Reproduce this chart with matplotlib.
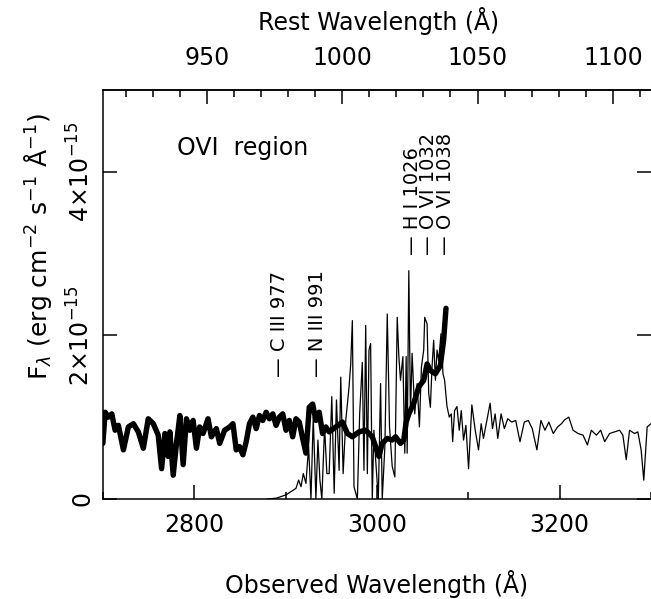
import numpy as np
import matplotlib.pyplot as plt
from matplotlib.ticker import MultipleLocator, FixedLocator, FuncFormatter

# redshift factor (1+z) linking observed and rest wavelength
zfac = 2.962

# low resolution spectrum (thick), flux in 1e-15 erg/cm2/s/A
wl_low = [2700.0, 2702.5, 2706.1, 2709.8, 2713.4, 2717.0, 2722.5, 2727.9, 2733.4, 2738.8,
          2744.3, 2749.7, 2755.2, 2760.6, 2764.3, 2767.9, 2771.5, 2773.4, 2777.0, 2780.6,
          2784.3, 2787.9, 2791.5, 2795.2, 2798.8, 2802.4, 2806.0, 2809.7, 2815.1, 2818.8,
          2824.2, 2827.9, 2833.3, 2838.8, 2842.4, 2846.0, 2849.6, 2853.3, 2856.9, 2860.5,
          2864.2, 2867.8, 2871.4, 2875.1, 2878.7, 2882.3, 2886.0, 2889.6, 2893.2, 2896.9,
          2900.5, 2904.1, 2907.8, 2911.4, 2915.0, 2918.7, 2922.3, 2925.9, 2929.6, 2933.2,
          2936.8, 2940.5, 2944.1, 2947.7, 2955.0, 2962.2, 2967.7, 2973.1, 2980.4, 2987.7,
          2994.9, 3002.2, 3005.8, 3011.3, 3016.7, 3020.4, 3025.8, 3029.4, 3032.0, 3034.9,
          3040.3, 3045.8, 3051.2, 3054.9, 3058.5, 3064.0, 3069.4, 3073.0, 3075.6]
fl_low = [0.68, 1.06, 1.00, 1.04, 0.84, 0.90, 0.60, 0.88, 0.92, 0.82,
          0.62, 0.98, 0.92, 0.78, 0.37, 0.80, 0.52, 0.82, 0.29, 0.68,
          1.02, 0.42, 0.98, 0.84, 0.96, 0.62, 0.88, 0.80, 0.98, 0.76,
          0.86, 0.68, 0.84, 0.88, 0.92, 0.60, 0.64, 0.54, 0.70, 0.92,
          1.00, 0.86, 1.02, 0.96, 1.06, 0.98, 1.04, 0.90, 1.00, 1.04,
          0.84, 0.96, 0.76, 0.98, 0.94, 0.74, 0.56, 1.12, 1.16, 0.96,
          1.06, 0.80, 0.88, 0.82, 0.88, 0.94, 0.80, 0.76, 0.82, 0.84,
          0.76, 0.52, 0.68, 0.74, 0.72, 0.76, 0.68, 0.72, 0.94, 1.04,
          1.17, 1.37, 1.45, 1.65, 1.57, 1.53, 1.63, 1.94, 2.33]

# high resolution spectrum (thin)
wl_high = [2880.0, 2890.0, 2900.5, 2906.0, 2911.4, 2914.3, 2916.9, 2919.4, 2922.3, 2925.2,
           2927.8, 2930.3, 2933.2, 2935.4, 2937.6, 2939.7, 2942.7, 2945.2, 2947.7, 2950.6,
           2953.2, 2955.7, 2958.6, 2960.4, 2963.0, 2965.9, 2969.5, 2971.3, 2973.1, 2974.9,
           2978.6, 2981.1, 2984.0, 2985.8, 2987.7, 2989.5, 2991.3, 2993.1, 2994.9, 2996.7,
           2998.6, 3001.5, 3004.0, 3005.8, 3008.7, 3011.3, 3013.8, 3016.7, 3019.6, 3022.2,
           3024.0, 3025.8, 3028.4, 3030.5, 3032.0, 3033.1, 3034.9, 3036.7, 3038.5, 3041.4,
           3044.0, 3046.5, 3048.7, 3051.2, 3052.3, 3054.9, 3056.7, 3058.5, 3060.3, 3062.1,
           3064.0, 3065.8, 3067.6, 3070.1, 3072.3, 3074.1, 3076.7, 3079.2, 3081.4, 3082.9,
           3085.0, 3087.6, 3090.1, 3092.3, 3094.8, 3097.4, 3100.3, 3103.9, 3107.6, 3111.2,
           3114.1, 3116.6, 3120.3, 3123.9, 3126.5, 3129.4, 3132.3, 3135.9, 3139.5, 3143.2,
           3147.5, 3151.9, 3156.6, 3161.3, 3165.7, 3170.0, 3175.1, 3179.5, 3183.9, 3188.2,
           3193.0, 3197.7, 3202.0, 3205.7, 3210.0, 3214.7, 3220.2, 3225.6, 3230.4, 3234.7,
           3240.2, 3244.9, 3249.3, 3254.7, 3260.2, 3265.6, 3269.2, 3272.9, 3276.5, 3282.0,
           3285.6, 3289.2, 3292.1, 3295.8, 3300.0]
fl_high = [0.00, 0.01, 0.05, 0.09, 0.13, 0.23, 0.15, 0.31, 0.19, 0.64,
           0.00, 1.00, 0.00, 0.72, 0.23, 0.00, 0.88, 0.31, 0.31, 1.25,
           0.07, 1.21, 0.35, 1.49, 0.31, 0.96, 1.37, 1.65, 2.18, 0.15,
           0.00, 1.04, 1.67, 0.35, 2.12, 0.31, 1.82, 1.90, 0.00, 0.84,
           0.48, 0.00, 1.41, 0.00, 0.64, 2.26, 0.88, 0.40, 0.27, 2.22,
           1.74, 1.45, 1.74, 0.56, 1.74, 0.56, 2.79, 1.04, 1.78, 1.04,
           1.41, 0.88, 1.61, 1.82, 2.22, 2.14, 1.29, 1.12, 1.61, 1.94,
           1.45, 1.82, 1.69, 2.02, 1.53, 1.45, 1.13, 1.00, 1.04, 0.70,
           1.08, 1.13, 0.84, 1.08, 0.72, 0.90, 0.37, 1.15, 0.84, 0.60,
           0.92, 0.74, 0.96, 1.17, 0.86, 1.04, 0.74, 1.04, 0.86, 0.98,
           0.94, 0.96, 0.70, 0.94, 0.96, 0.86, 0.60, 0.96, 0.84, 0.94,
           0.80, 0.88, 0.92, 0.97, 1.00, 0.84, 0.80, 0.78, 0.66, 0.84,
           0.78, 0.84, 0.70, 0.80, 0.82, 0.84, 0.78, 0.48, 0.84, 0.80,
           0.82, 0.60, 0.23, 0.88, 0.92]

line_names = ['C III 977', 'N III 991', 'H I 1026', 'O VI 1032', 'O VI 1038']
line_rest = [977, 991, 1026, 1032, 1038]

fs = 17
fig = plt.figure(figsize=(6.51, 5.99), dpi=100)
ax = fig.add_axes([0.158, 0.167, 0.842, 0.683])

ax.plot(wl_high, fl_high, color='black', lw=0.9)
ax.plot(wl_low, fl_low, color='black', lw=3.9, solid_joinstyle='round',
        solid_capstyle='round')

ax.set_xlim(2700, 3300)
ax.set_ylim(0, 5)
ax.xaxis.set_major_locator(MultipleLocator(200))
ax.xaxis.set_minor_locator(MultipleLocator(100))
ax.yaxis.set_major_locator(FixedLocator([0, 2, 4]))
ax.yaxis.set_major_formatter(FuncFormatter(
    lambda v, p: '0' if v == 0 else '%d×10$^{-15}$' % round(v)))
ax.tick_params(which='both', direction='in', top=False, right=True,
               labelsize=fs, width=1.1)
ax.tick_params(which='major', length=10)
ax.tick_params(which='minor', length=5)
ax.tick_params(axis='x', pad=10)
ax.tick_params(axis='y', pad=6)
for lab in ax.get_yticklabels():
    lab.set_rotation(90)
    lab.set_va('center')
for s in ax.spines.values():
    s.set_linewidth(1.1)
ax.spines['right'].set_visible(False)

top = ax.secondary_xaxis('top', functions=(lambda x: x / zfac, lambda x: x * zfac))
top.xaxis.set_major_locator(MultipleLocator(50))
top.xaxis.set_minor_locator(MultipleLocator(10))
top.tick_params(which='both', direction='in', labelsize=fs, width=1.1, pad=14)
top.tick_params(which='major', length=10)
top.tick_params(which='minor', length=5)
top.spines['top'].set_linewidth(1.1)

ax.set_xlabel('Observed Wavelength (Å)', fontsize=fs, labelpad=24)
fig.text(0.581, 0.965, 'Rest Wavelength (Å)', fontsize=fs, ha='center', va='center')
fig.text(0.058, 0.588, r'F$_\lambda$ (erg cm$^{-2}$ s$^{-1}$ Å$^{-1}$)',
         fontsize=18, rotation=90, ha='center', va='center')

ax.text(0.135, 0.858, 'OVI  region', transform=ax.transAxes, fontsize=fs,
        ha='left', va='center')
for name, rest in zip(line_names, line_rest):
    ybot = 1.49 if rest < 1000 else 2.98
    ax.text(rest * zfac, ybot, '— ' + name, rotation=90, ha='center', va='bottom',
            fontsize=14)

fig.savefig('out.png', dpi=100)
